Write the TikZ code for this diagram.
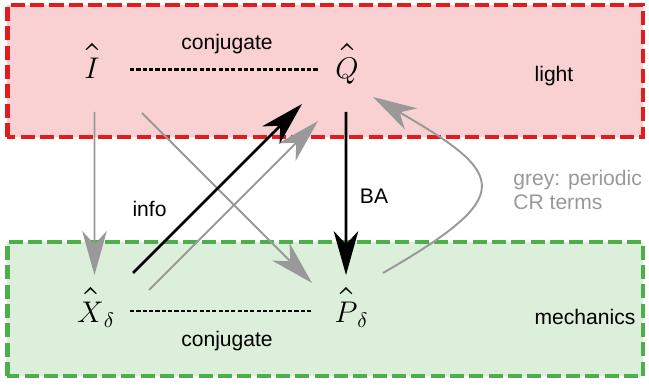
\RequirePackage{fix-cm}
\documentclass[tikz,border=0pt]{standalone}
\usepackage[no-math]{fontspec}
\setmainfont{Liberation Sans}
\usetikzlibrary{arrows.meta}
\definecolor{boxred}{HTML}{E41A1C}
\definecolor{boxgreen}{HTML}{4DAF4A}
\definecolor{crgrey}{HTML}{999999}
% wider hat, set a bit higher, as in the drawing
\DeclareFontFamily{OT1}{bigcmr}{\hyphenchar\font=-1}
\DeclareFontShape{OT1}{bigcmr}{m}{n}{<->s*[1.6]cmr10}{}
\DeclareSymbolFont{bighat}{OT1}{bigcmr}{m}{n}
\DeclareMathAccent{\qhat}{\mathalpha}{bighat}{"5E}
\newcommand{\hq}[1]{\qhat{\vphantom{\rule{0pt}{0.76em}}#1}}
\tikzset{
  region/.style={line width=2.3pt, dash pattern=on 8pt off 3pt},
  quad/.style={inner sep=2pt, anchor=base, font=\fontsize{17}{20}\selectfont},
  lbl/.style={inner sep=0pt, anchor=base, font=\fontsize{12}{13.8}\selectfont},
  conj/.style={line width=1.4pt, dash pattern=on 2.4pt off 1.2pt},
  crarrow/.style={draw=crgrey, line width=1.1pt, -{Stealth[length=25pt,width=14pt,inset=7.5pt]}},
  qarrow/.style={line width=1.5pt, -{Stealth[length=25pt,width=14pt,inset=7.5pt]}}
}
\begin{document}
\begin{tikzpicture}
\useasboundingbox (0,0) rectangle (12.98,7.8);
% light and mechanics regions
\draw[region, draw=boxred, fill=boxred!20] (0.15,5.06) rectangle (12.86,7.7);
\draw[region, draw=boxgreen, fill=boxgreen!20] (0.15,0.28) rectangle (12.86,2.96);
% quadratures
\node[quad] (I) at (1.84,6.22) {$\hq{I}$};
\node[quad] (Q) at (6.94,6.22) {$\hq{Q}$};
\node[quad] (X) at (1.92,1.34) {$\hq{X}_\delta$};
\node[quad] (P) at (7.03,1.34) {$\hq{P}_\delta$};
\draw[conj] ([shift={(0.76,0.19)}]I.base) -- ([shift={(-0.57,0.19)}]Q.base);
\draw[conj] ([shift={(0.68,0.24)}]X.base) -- ([shift={(-0.77,0.24)}]P.base);
% grey: periodic counter-rotating terms
\draw[crarrow] ([shift={(0.05,-0.66)}]I.base) -- ([shift={(-0.03,0.96)}]X.base);
\draw[crarrow] ([shift={(1.00,-0.68)}]I.base) -- ([shift={(-0.79,0.80)}]P.base);
\draw[crarrow] ([shift={(1.06,0.66)}]X.base) -- ([shift={(-0.58,-0.84)}]Q.base);
\draw[crarrow] ([shift={(0.63,1.00)}]P.base) .. controls +(30:3.1) and +(-30:3.1) .. ([shift={(0.52,-0.36)}]Q.base);
% info and back-action
\draw[qarrow] ([shift={(0.74,1.00)}]X.base) -- ([shift={(-0.90,-0.50)}]Q.base);
\draw[qarrow] ([shift={(-0.02,-0.66)}]Q.base) -- ([shift={(-0.11,0.96)}]P.base);
% labels
\node[lbl] (conjtop) at (4.54,6.80) {conjugate};
\node[lbl] (conjbot) at (4.54,0.87) {conjugate};
\node[lbl] (light) at (11.08,6.17) {light};
\node[lbl] (mech) at (11.7,1.30) {mechanics};
\node[lbl] (info) at (2.99,3.47) {info};
\node[lbl] (ba) at (7.48,3.72) {BA};
\node[lbl, anchor=base west, align=left, text=crgrey] (note) at (10.26,3.61) {grey: periodic\\CR terms};
\end{tikzpicture}
\end{document}
